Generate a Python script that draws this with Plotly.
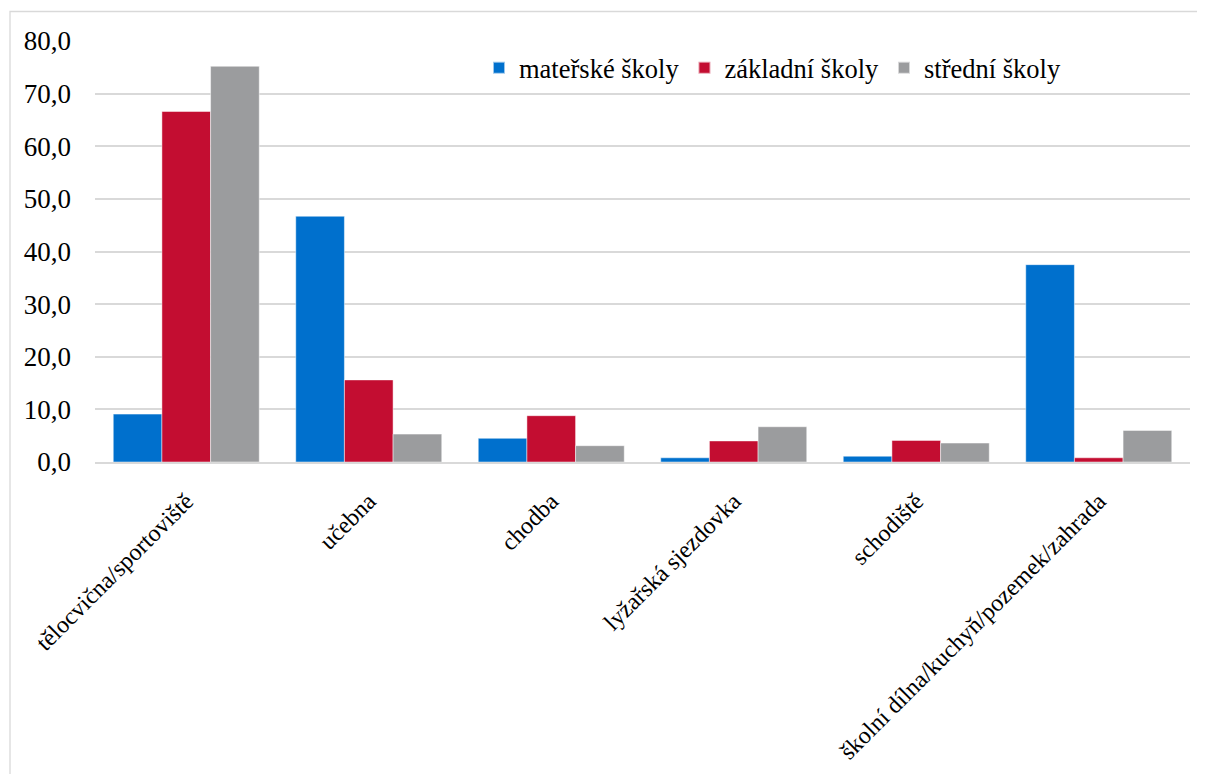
import plotly.graph_objects as go

categories = ["tělocvična/sportoviště", "učebna", "chodba", "lyžařská sjezdovka",
              "schodiště", "školní dílna/kuchyň/pozemek/zahrada"]
materske = [9.1, 46.7, 4.5, 0.8, 1.1, 37.5]
zakladni = [66.6, 15.6, 8.8, 4.0, 4.1, 0.8]
stredni = [75.2, 5.3, 3.1, 6.7, 3.6, 6.0]
series_names = ["mateřské školy", "základní školy", "střední školy"]
colors = ["#0070CD", "#C30D31", "#9B9C9E"]
tick_vals = [0, 10, 20, 30, 40, 50, 60, 70, 80]
tick_text = ["0,0", "10,0", "20,0", "30,0", "40,0", "50,0", "60,0", "70,0", "80,0"]

SERIF = "Liberation Serif, Times New Roman, DejaVu Serif, serif"

fig = go.Figure()
for name, vals, col in zip(series_names, [materske, zakladni, stredni], colors):
    fig.add_trace(go.Bar(x=categories, y=vals, name=name,
                         marker=dict(color=col, line=dict(color="rgba(255,255,255,0.6)", width=0.8))))

OFF = 8
W, H = 1205 - OFF, 774 - OFF
PL, PR, PT, PB = 95, 1190, 41, 462
L, R, T, B = PL - OFF, 1205 - PR, PT - OFF, 774 - PB

def px(x):
    return (x - PL) / (PR - PL)

def py(y):
    return (PB - y) / (PB - PT)

fig.add_shape(type="rect", xref="paper", yref="paper",
              x0=px(10), x1=px(1225), y0=py(800), y1=py(11.5),
              line=dict(color="#d9d9d9", width=1.3), fillcolor="rgba(0,0,0,0)", layer="below")

fig.update_layout(
    width=W, height=H,
    margin=dict(l=L, r=R, t=T, b=B, autoexpand=False),
    plot_bgcolor="white", paper_bgcolor="white",
    barmode="group", bargap=0.2, bargroupgap=0,
    font=dict(family=SERIF, size=24, color="#000000"),
    legend=dict(orientation="h", x=px(479), y=py(68), xanchor="left", yanchor="middle",
                font=dict(family=SERIF, size=26.5, color="#000000"), itemwidth=30,
                traceorder="normal", bgcolor="rgba(255,255,255,0)", itemsizing="constant"),
    xaxis=dict(tickangle=-45, showgrid=False, showline=True, linecolor="#d9d9d9",
               linewidth=1.5, ticks="", ticklabelstandoff=14,
               tickfont=dict(size=24, family=SERIF, color="#000000")),
    yaxis=dict(range=[0, 80], tickvals=tick_vals, ticktext=tick_text,
               showgrid=True, gridcolor="#d9d9d9", gridwidth=1.5, zeroline=False,
               showline=False, ticks="", ticklabelstandoff=23,
               tickfont=dict(size=27, family=SERIF, color="#000000")),
)

fig.write_html("out.html")
